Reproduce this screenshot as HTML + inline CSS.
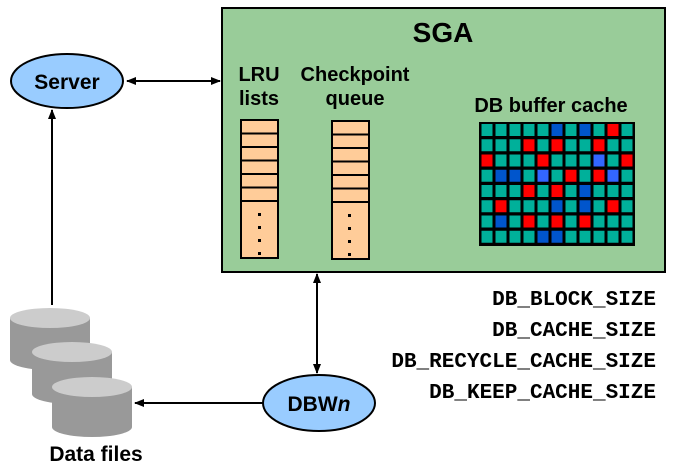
<!DOCTYPE html>
<html><head><style>
body{margin:0;background:#fff}
svg{display:block}
text{font-family:"Liberation Sans",Arial,sans-serif;font-weight:bold}
.m{font-family:"Liberation Mono",monospace;font-weight:bold;font-size:21px}
</style></head><body>
<svg width="675" height="468" viewBox="0 0 675 468" xmlns="http://www.w3.org/2000/svg">
<defs>
<marker id="a" markerWidth="10" markerHeight="10" refX="9" refY="5" orient="auto-start-reverse" markerUnits="userSpaceOnUse"><path d="M0,1 L10,5 L0,9 Z" fill="#000"/></marker>
</defs>
<rect x="222" y="8" width="443" height="264" fill="#99cc99" stroke="#000" stroke-width="2"/>
<text x="443" y="42" font-size="28" text-anchor="middle">SGA</text>
<text x="259" y="81" font-size="20" text-anchor="middle">LRU</text>
<text x="259" y="105" font-size="20" text-anchor="middle">lists</text>
<text x="355" y="81" font-size="20" text-anchor="middle">Checkpoint</text>
<text x="355" y="105" font-size="20" text-anchor="middle">queue</text>
<text x="551" y="112" font-size="20" text-anchor="middle">DB buffer cache</text>
<g stroke="#000" stroke-width="2" fill="#ffcc99">
<rect x="241" y="120" width="37" height="138"/>
<line x1="241" y1="133.5" x2="278" y2="133.5"/><line x1="241" y1="147" x2="278" y2="147"/><line x1="241" y1="160.5" x2="278" y2="160.5"/><line x1="241" y1="174" x2="278" y2="174"/><line x1="241" y1="187.5" x2="278" y2="187.5"/><line x1="241" y1="201" x2="278" y2="201"/>
<rect x="332" y="121" width="37" height="138"/>
<line x1="332" y1="134.5" x2="369" y2="134.5"/><line x1="332" y1="148" x2="369" y2="148"/><line x1="332" y1="161.5" x2="369" y2="161.5"/><line x1="332" y1="175" x2="369" y2="175"/><line x1="332" y1="188.5" x2="369" y2="188.5"/><line x1="332" y1="202" x2="369" y2="202"/>
</g>
<g fill="#000">
<rect x="258" y="213" width="3" height="3"/><rect x="258" y="226" width="3" height="3"/><rect x="258" y="239" width="3" height="3"/><rect x="258" y="252" width="3" height="3"/>
<rect x="348" y="214" width="3" height="3"/><rect x="348" y="227" width="3" height="3"/><rect x="348" y="240" width="3" height="3"/><rect x="348" y="253" width="3" height="3"/>
</g>
<rect x="479" y="122" width="156" height="124" fill="#000"/>
<g id="grid"></g>
<line x1="127" y1="81" x2="220" y2="81" stroke="#000" stroke-width="2" marker-start="url(#a)" marker-end="url(#a)"/>
<ellipse cx="67" cy="81" rx="56" ry="27" fill="#99ccff" stroke="#000" stroke-width="2"/>
<text x="67" y="89" font-size="21" text-anchor="middle">Server</text>
<line x1="52" y1="305" x2="52" y2="110" stroke="#000" stroke-width="2" marker-end="url(#a)"/>
<line x1="317" y1="274" x2="317" y2="373" stroke="#000" stroke-width="2" marker-start="url(#a)" marker-end="url(#a)"/>
<ellipse cx="319" cy="403" rx="56" ry="28" fill="#99ccff" stroke="#000" stroke-width="2"/>
<text x="319" y="411" font-size="21" text-anchor="middle">DBW<tspan font-style="italic">n</tspan></text>
<line x1="263" y1="403" x2="135" y2="403" stroke="#000" stroke-width="2" marker-end="url(#a)"/>
<g>
<path d="M10,318 L10,360 A40,10 0 0 0 90,360 L90,318 Z" fill="#999"/><ellipse cx="50" cy="318" rx="40" ry="10" fill="#ccc"/>
<path d="M32,352 L32,394 A40,10 0 0 0 112,394 L112,352 Z" fill="#999"/><ellipse cx="72" cy="352" rx="40" ry="10" fill="#ccc"/>
<path d="M52,387 L52,427 A40,10 0 0 0 132,427 L132,387 Z" fill="#999"/><ellipse cx="92" cy="387" rx="40" ry="10" fill="#ccc"/>
</g>
<text x="96" y="461" font-size="21" text-anchor="middle">Data files</text>
<text class="m" x="656" y="305" text-anchor="end">DB_BLOCK_SIZE</text>
<text class="m" x="656" y="336" text-anchor="end">DB_CACHE_SIZE</text>
<text class="m" x="656" y="367" text-anchor="end">DB_RECYCLE_CACHE_SIZE</text>
<text class="m" x="656" y="398" text-anchor="end">DB_KEEP_CACHE_SIZE</text>
</svg>
<script>
var rows=["TTTTTBTBTRT","TTTRTRTTRTT","RTTTRTTTLTR","TBBTLTRTRLT","TTTRTRTBTTT","TRTTTBTBTRT","TBTRTRTRTTT","TTTTBBTTTTT"];
var c={T:"#00b09a",B:"#0055cc",R:"#ff0000",L:"#3366ff"};
var g=document.getElementById("grid"),s="";
for(var r=0;r<8;r++)for(var k=0;k<11;k++){s+='<rect x="'+(481.5+k*14)+'" y="'+(124+r*15.25)+'" width="11" height="12" fill="'+c[rows[r][k]]+'"/>';}
g.innerHTML=s;
</script>
</body></html>
